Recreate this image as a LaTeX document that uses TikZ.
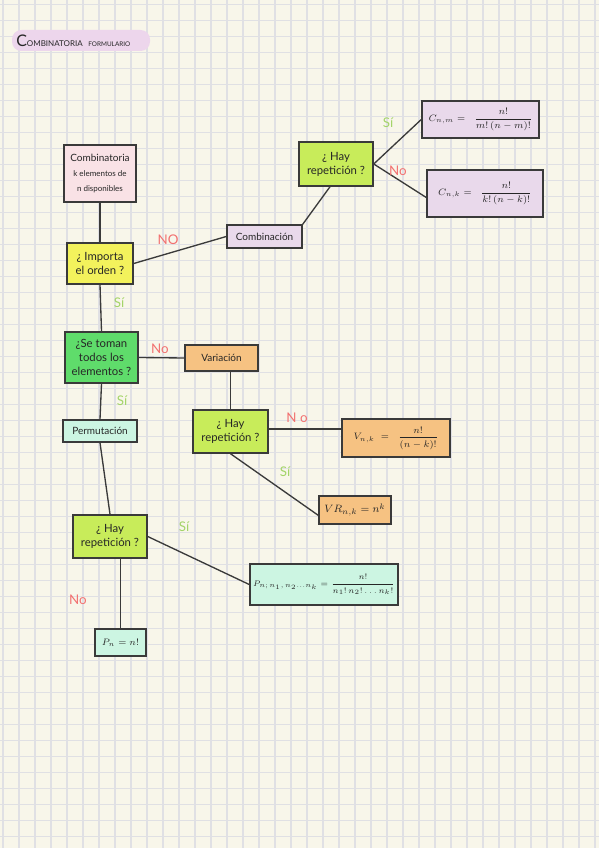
\documentclass[tikz,border=0pt]{standalone}
\usepackage{amsmath}
\usepackage{fontspec}
\setmainfont{Lato}
\usetikzlibrary{calc}
\definecolor{paper}{HTML}{F8F6EA}
\definecolor{gridc}{HTML}{E0E0E4}
\definecolor{edge}{HTML}{3A3A3A}
\definecolor{pinkc}{HTML}{F9E2E6}
\definecolor{yellowc}{HTML}{F3F25C}
\definecolor{lavc}{HTML}{E9D9EB}
\definecolor{hayc}{HTML}{C8EC5A}
\definecolor{greenc}{HTML}{5FDC6B}
\definecolor{orangec}{HTML}{F6C282}
\definecolor{mintc}{HTML}{CCF5E2}
\definecolor{titlec}{HTML}{EDD6EC}
\definecolor{yesc}{HTML}{A3D468}
\definecolor{noc}{HTML}{F26F6F}
\begin{document}
\begin{tikzpicture}[x=0.75pt,y=-0.75pt,
  gridline/.style={draw=gridc,line width=0.9pt},
  sz/.style 2 args={minimum width=#1*0.75pt,minimum height=#2*0.75pt},
  box/.style={draw=edge,line width=1.1pt,inner sep=1pt,align=center,text=black!85},
  qbox/.style={box,font=\fontsize{8.5}{10.5}\selectfont},
  tbox/.style={box,font=\fontsize{7.5}{8}\selectfont},
  fbox/.style={box,font=\fontsize{7.5}{9}\selectfont},
  conn/.style={draw=edge,line width=1pt},
  yes/.style={text=yesc,font=\fontsize{10}{10}\selectfont},
  nolab/.style={text=noc,font=\fontsize{10}{10}\selectfont}]
\useasboundingbox (0,0) rectangle (599,848);
\fill[paper] (0,0) rectangle (599,848);
\foreach \i in {0,...,37} \draw[gridline] ({3+16*\i},0) -- ({3+16*\i},848);
\foreach \j in {0,...,52} \draw[gridline] (0,{4.5+16*\j}) -- (599,{4.5+16*\j});

% title
\fill[titlec,rounded corners=7pt] (12,30) rectangle (150,51);
\node[anchor=west,inner sep=0pt,text=black!85] (title) at (16,41)
  {{\fontsize{12}{12}\selectfont C}{\fontsize{6}{6}\selectfont OMBINATORIA}\ \,{\fontsize{4.8}{5}\selectfont FORMULARIO}};

% nodes
\node[box,fill=pinkc,sz={72}{57}] (comb) at (100,173.5)
  {{\fontsize{7.5}{9}\selectfont Combinatoria}\\[-1pt]{\fontsize{6}{8}\selectfont k elementos de}\\[-1pt]{\fontsize{6}{8}\selectfont n disponibles}};
\node[qbox,fill=yellowc,sz={66}{41}] (imp) at (100,263.5) {¿ Importa\\el orden ?};
\node[tbox,fill=lavc,sz={75}{23}] (combi) at (264.5,236.5) {Combinación};
\node[qbox,fill=hayc,sz={74}{44}] (hay1) at (336,164) {¿ Hay\\repetición ?};
\node[fbox,fill=lavc,sz={117}{37}] (cnm) at (480.5,119.5)
  {$C_{n,m} =\;\; \dfrac{\;\;n!\;\;}{m!\,(n-m)!}$};
\node[fbox,fill=lavc,sz={116}{47}] (cnk) at (485,193.5)
  {$C_{n,k} =\;\; \dfrac{\;\;n!\;\;}{k!\,(n-k)!}$};
\node[qbox,fill=greenc,sz={73}{51}] (toman) at (101.5,357.5) {¿Se toman\\todos los\\elementos ?};
\node[tbox,fill=orangec,sz={73}{26}] (var) at (221.5,358) {Variación};
\node[tbox,fill=mintc,sz={74}{22}] (perm) at (100,431) {Permutación};
\node[qbox,fill=hayc,sz={75}{43}] (hay2) at (230.5,431.5) {¿ Hay\\repetición ?};
\node[fbox,fill=orangec,sz={108}{38}] (vnk) at (396,438)
  {$V_{n,k} \;=\;\; \dfrac{\quad n!\quad}{(n-k)!}$};
\node[box,fill=orangec,sz={72}{28},font=\fontsize{8.5}{9}\selectfont] (vr) at (355,510)
  {$VR_{n,k} = n^{k}$};
\node[qbox,fill=hayc,sz={74}{43}] (hay3) at (110,536.5) {¿ Hay\\repetición ?};
\node[box,fill=mintc,sz={148}{41},font=\fontsize{6.3}{8}\selectfont] (pn) at (324,584.5)
  {$P_{n;\,n_1,\,n_2\ldots n_k} = \dfrac{\qquad n!\qquad}{n_1!\,n_2!\ldots n_k!}$};
\node[box,fill=mintc,sz={51}{27},font=\fontsize{7}{8}\selectfont] (pnn) at (120.5,642.5) {$P_n = n!$};

% connectors
\draw[conn] (comb.south) -- (imp.north);
\draw[conn] (imp.east) -- (combi.west);
\draw[conn] ([xshift=-4.5pt]hay1.south) -- (combi.north east);
\draw[conn] (hay1.east) -- (cnm.west);
\draw[conn] (hay1.east) -- ([yshift=-3pt]cnk.west);
\draw[conn] (imp.south) -- (toman.north);
\draw[conn] (toman.east) -- (var.west);
\draw[conn] (toman.south) -- (perm.north);
\draw[conn] (hay2.north |- var.south) -- (hay2.north);
\draw[conn] ([yshift=2pt]hay2.east) -- ([yshift=2pt]vnk.west |- hay2.east);
\draw[conn] (hay2.south) -- ([yshift=-4pt]vr.west);
\draw[conn] (perm.south) -- (hay3.north);
\draw[conn] (hay3.east) -- (pn.west);
\draw[conn] (pnn.north |- hay3.south) -- (pnn.north);

% labels
\node[yes] (s1) at (388,123) {Sí};
\node[nolab] (n1) at (398,171) {No};
\node[nolab] (n2) at (168,240) {NO};
\node[yes] (s2) at (119,303) {Sí};
\node[nolab] (n3) at (160,349) {No};
\node[yes] (s3) at (122,401) {Sí};
\node[nolab] (n4) at (297,418) {N o};
\node[yes] (s4) at (285,472) {Sí};
\node[yes] (s5) at (184,527) {Sí};
\node[nolab] (n5) at (78,600) {No};
\end{tikzpicture}
\end{document}
